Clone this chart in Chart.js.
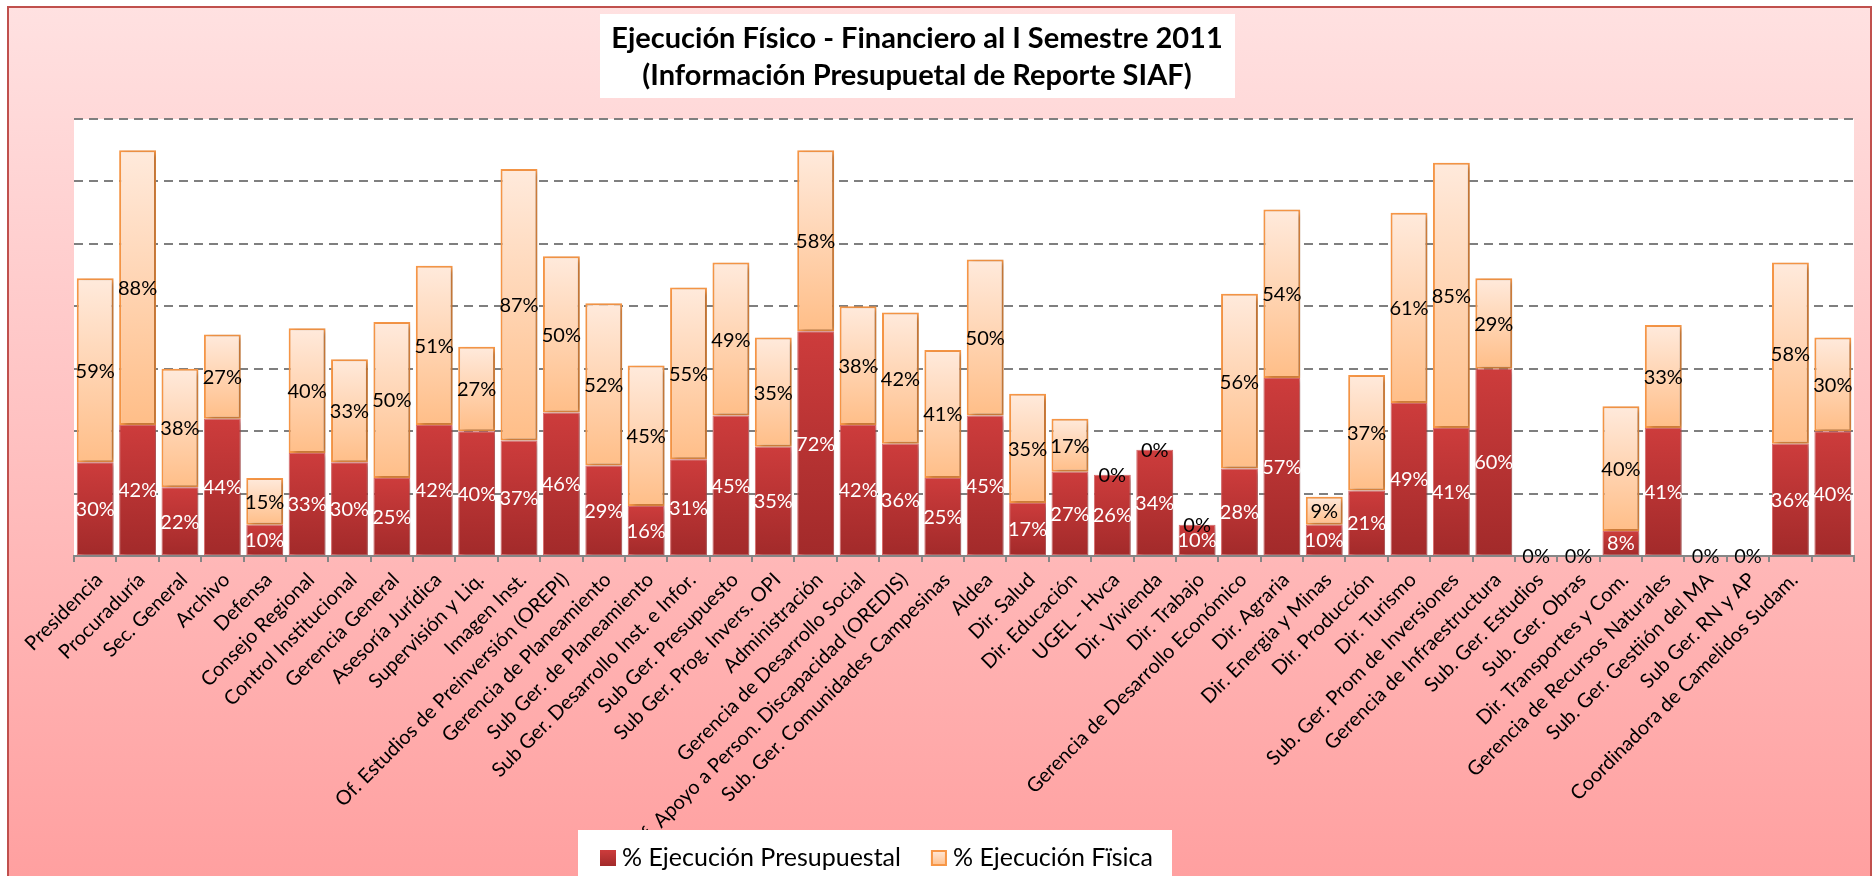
<!DOCTYPE html>
<html>
<head>
<meta charset="utf-8">
<script src="https://cdn.jsdelivr.net/npm/chart.js@4.4.1/dist/chart.umd.min.js"></script>
<style>
  html, body { margin: 0; padding: 0; background: #fff; }
  canvas { display: block; }
</style>
</head>
<body>
<canvas id="ejecucionChart" width="1872" height="876"></canvas>
<script>
// Chart data
const categories = [
    'Presidencia', 'Procuraduría', 'Sec. General', 'Archivo', 'Defensa',
    'Consejo Regional', 'Control Institucional', 'Gerencia General', 'Asesoría Jurídica',
    'Supervisión y Liq.', 'Imagen Inst.', 'Of. Estudios de Preinversión (OREPI)',
    'Gerencia de Planeamiento', 'Sub Ger. de Planeamiento', 'Sub Ger. Desarrollo Inst. e Infor.',
    'Sub Ger. Presupuesto', 'Sub Ger. Prog. Invers. OPI', 'Administración',
    'Gerencia de Desarrollo Social', 'Of. Apoyo a Person. Discapacidad (OREDIS)',
    'Sub. Ger. Comunidades Campesinas', 'Aldea', 'Dir. Salud', 'Dir. Educación',
    'UGEL - Hvca', 'Dir. Vivienda', 'Dir. Trabajo', 'Gerencia de Desarrollo Económico',
    'Dir. Agraria', 'Dir. Energia y Minas', 'Dir. Producción', 'Dir. Turismo',
    'Sub. Ger. Prom de Inversiones', 'Gerencia de Infraestructura', 'Sub. Ger. Estudios',
    'Sub. Ger. Obras', 'Dir. Transportes y Com.', 'Gerencia de Recursos Naturales',
    'Sub. Ger. Gestiión del MA', 'Sub Ger. RN y AP', 'Coordinadora de Camelidos Sudam.', ''
];

const presupuestal = [
    30, 42, 22, 44, 10, 33, 30, 25, 42, 40, 37, 46, 29, 16, 31, 45, 35, 72, 42, 36, 25,
    45, 17, 27, 26, 34, 10, 28, 57, 10, 21, 49, 41, 60, 0, 0, 8, 41, 0, 0, 36, 40
];

const fisica = [
    59, 88, 38, 27, 15, 40, 33, 50, 51, 27, 87, 50, 52, 45, 55, 49, 35, 58, 38, 42, 41,
    50, 35, 17, 0, 0, 0, 56, 54, 9, 37, 61, 85, 29, 0, 0, 40, 33, 0, 0, 58, 30
];

const seriesNames = ['% Ejecución Presupuestal', '% Ejecución Fïsica'];
const titleLines = ['Ejecución Físico - Financiero al I Semestre 2011', '(Información Presupuetal de Reporte SIAF)'];
const yMax = 140;
const yStep = 20;

const FONT = 'Lato, "Open Sans", sans-serif';

/**
 * Vertical gradient spanning one bar segment
 */
function segmentGradient(context, topColor, bottomColor, fallback) {
    const chart = context.chart;
    const i = context.dataIndex;
    if (!chart.chartArea || i === undefined) return fallback;
    const y = chart.scales.y;
    const lo = context.datasetIndex === 0 ? 0 : presupuestal[i];
    const hi = lo + context.dataset.data[i];
    if (hi === lo) return fallback;
    const g = chart.ctx.createLinearGradient(0, y.getPixelForValue(hi), 0, y.getPixelForValue(lo));
    g.addColorStop(0, topColor);
    g.addColorStop(1, bottomColor);
    return g;
}

// Pink frame, white plot area
const backdrop = {
    id: 'backdrop',
    beforeDraw(chart) {
        const { ctx, width, height, chartArea } = chart;
        ctx.save();
        ctx.fillStyle = '#fff';
        ctx.fillRect(0, 0, width, height);
        const bg = ctx.createLinearGradient(0, 7, 0, height);
        bg.addColorStop(0, '#ffe1e1');
        bg.addColorStop(1, '#ffa0a0');
        ctx.fillStyle = bg;
        ctx.fillRect(8, 7, width - 9, height);
        ctx.strokeStyle = '#c0504d';
        ctx.lineWidth = 2;
        ctx.strokeRect(8, 7, width - 9, height + 4);
        ctx.fillStyle = '#fff';
        ctx.fillRect(chartArea.left, chartArea.top, chartArea.right - chartArea.left, chartArea.bottom - chartArea.top);
        ctx.restore();
    }
};

// Soft shadow behind the bars
const barShadow = {
    id: 'barShadow',
    beforeDatasetDraw(chart) {
        const ctx = chart.ctx;
        ctx.save();
        ctx.shadowColor = 'rgba(0, 0, 0, 0.28)';
        ctx.shadowBlur = 5;
        ctx.shadowOffsetX = 3;
        ctx.shadowOffsetY = 2;
    },
    afterDatasetDraw(chart) {
        chart.ctx.restore();
    }
};

// Percentage labels centred in every segment
const valueLabels = {
    id: 'valueLabels',
    afterDatasetsDraw(chart) {
        const ctx = chart.ctx;
        ctx.save();
        ctx.font = '20px ' + FONT;
        ctx.textAlign = 'center';
        ctx.textBaseline = 'middle';
        chart.data.datasets.forEach((ds, di) => {
            const meta = chart.getDatasetMeta(di);
            ctx.fillStyle = di === 0 ? '#ffffff' : '#000000';
            meta.data.forEach((bar, i) => {
                ctx.fillText(ds.data[i] + '%', bar.x, (bar.y + bar.base) / 2 + 1);
            });
        });
        ctx.restore();
    }
};

// Title and legend in white boxes, placed as in the original
const boxes = {
    id: 'boxes',
    afterDraw(chart) {
        const ctx = chart.ctx;
        ctx.save();

        // title
        ctx.fillStyle = '#fff';
        ctx.fillRect(600, 14, 635, 84);
        ctx.fillStyle = '#000';
        ctx.font = 'bold 29px ' + FONT;
        ctx.textAlign = 'center';
        ctx.textBaseline = 'middle';
        ctx.fillText(titleLines[0], 917, 39);
        ctx.fillText(titleLines[1], 917, 76);

        // legend
        ctx.fillStyle = '#fff';
        ctx.fillRect(578, 830, 594, 46);
        ctx.font = '25px ' + FONT;
        ctx.textAlign = 'left';
        let x = 600;
        const midY = 858;
        seriesNames.forEach((name, di) => {
            const g = ctx.createLinearGradient(0, midY - 8, 0, midY + 8);
            if (di === 0) {
                g.addColorStop(0, '#cd3c3c');
                g.addColorStop(1, '#a22a2a');
            } else {
                g.addColorStop(0, '#ffeadc');
                g.addColorStop(1, '#ffbe88');
            }
            ctx.fillStyle = g;
            ctx.fillRect(x, midY - 8, 16, 16);
            if (di === 1) {
                ctx.strokeStyle = '#f79646';
                ctx.lineWidth = 2;
                ctx.strokeRect(x + 1, midY - 7, 14, 14);
            }
            ctx.fillStyle = '#000';
            ctx.fillText(name, x + 22, midY);
            x += 22 + ctx.measureText(name).width + 30;
        });
        ctx.restore();
    }
};

const ctx = document.getElementById('ejecucionChart').getContext('2d');

new Chart(ctx, {
    type: 'bar',
    data: {
        labels: categories,
        datasets: [
            {
                label: seriesNames[0],
                data: presupuestal,
                backgroundColor: c => segmentGradient(c, '#cd3c3c', '#a22a2a', '#b83232'),
                borderColor: 'rgba(214, 92, 92, 0.9)',
                borderWidth: c => (presupuestal[c.dataIndex] ? 1 : 0),
                borderSkipped: false
            },
            {
                label: seriesNames[1],
                data: fisica,
                backgroundColor: c => segmentGradient(c, '#ffeadc', '#ffbe88', '#ffd4b0'),
                borderColor: '#f79646',
                borderWidth: c => (fisica[c.dataIndex] ? 2 : 0),
                borderSkipped: false
            }
        ]
    },
    options: {
        responsive: false,
        animation: false,
        layout: {
            padding: { left: 74, right: 18, top: 119, bottom: 0 }
        },
        datasets: {
            bar: {
                categoryPercentage: 1,
                barPercentage: 0.87
            }
        },
        plugins: {
            legend: { display: false },
            title: { display: false },
            tooltip: { enabled: false }
        },
        scales: {
            x: {
                stacked: true,
                afterFit: s => { s.height = 320; },
                border: { display: true, color: '#868686', width: 2 },
                grid: {
                    display: true,
                    drawOnChartArea: false,
                    drawTicks: true,
                    tickLength: 6,
                    color: '#868686',
                    lineWidth: 2
                },
                ticks: {
                    autoSkip: false,
                    maxRotation: 45,
                    minRotation: 45,
                    padding: 6,
                    labelOffset: 4,
                    color: '#000',
                    font: { family: FONT, size: 20 }
                }
            },
            y: {
                stacked: true,
                min: 0,
                max: yMax,
                afterFit: s => { s.width = 0; },
                grid: {
                    drawTicks: false,
                    color: c => (c.tick && c.tick.value === 0 ? 'rgba(0,0,0,0)' : '#7f7f7f'),
                    lineWidth: 2
                },
                border: { display: false, dash: [9, 6] },
                ticks: { display: false, stepSize: yStep }
            }
        }
    },
    plugins: [backdrop, barShadow, valueLabels, boxes]
});
</script>
</body>
</html>
